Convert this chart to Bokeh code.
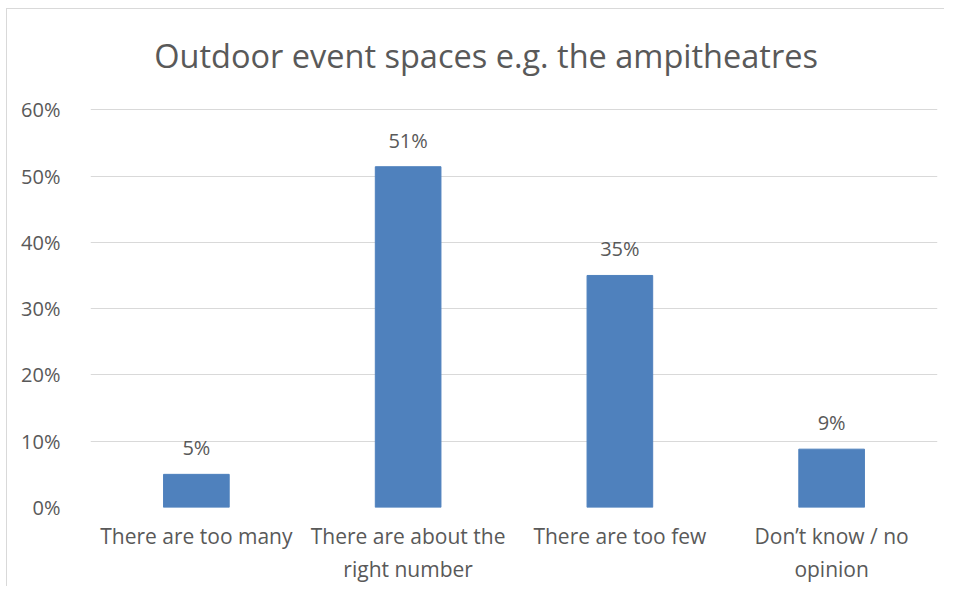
from bokeh.plotting import figure
from bokeh.models import ColumnDataSource, NumeralTickFormatter, FixedTicker, Range1d
from bokeh.core.properties import value
from bokeh.embed import file_html
from bokeh.resources import INLINE

title_text = "Outdoor event spaces e.g. the ampitheatres"
categories = ["There are too many", "There are about the\nright number", "There are too few", "Don\u2019t know / no\nopinion"]
values = [0.05, 0.514, 0.35, 0.088]
labels = ["5%", "51%", "35%", "9%"]
y_ticks = [0, 0.1, 0.2, 0.3, 0.4, 0.5, 0.6]

FONT = "Open Sans"
GREY = "#595959"

src = ColumnDataSource(dict(cat=categories, val=values, lab=labels))

p = figure(x_range=categories, y_range=Range1d(0, 0.7436), width=938, height=578,
           output_backend="svg", toolbar_location=None,
           min_border_left=83, min_border_right=8, min_border_top=5, min_border_bottom=80)
p.margin = (8, 0, 0, 6)
p.styles = {"border-left": "1px solid #d9d9d9", "border-top": "1px solid #d9d9d9"}
p.outline_line_color = None
p.background_fill_color = "white"
p.border_fill_color = "white"

# chart title drawn inside the (extended) plot area, above the 60% gridline
p.text(x=[categories[1]], y=[0.682], text=[title_text], x_offset=78, text_align="center",
       text_baseline="middle", text_font=value(FONT), text_font_size="32.5px", text_color=GREY)

p.vbar(x="cat", top="val", width=0.31, source=src, fill_color="#4f81bd", line_color="#4f81bd")
p.text(x="cat", y="val", text="lab", source=src, text_align="center", text_baseline="bottom",
       y_offset=-13, text_font=value(FONT), text_font_size="20px", text_color=GREY)

p.yaxis.ticker = FixedTicker(ticks=y_ticks)
p.yaxis.formatter = NumeralTickFormatter(format="0%")
for ax in (p.xaxis, p.yaxis):
    ax.axis_line_color = None
    ax.major_tick_line_color = None
    ax.minor_tick_line_color = None
    ax.major_label_text_font = FONT
    ax.major_label_text_color = GREY
p.yaxis.major_label_text_font_size = "20px"
p.xaxis.major_label_text_font_size = "21px"
p.yaxis.major_label_standoff = 24
p.xaxis.major_label_standoff = 8
p.xgrid.grid_line_color = None
p.ygrid.grid_line_color = "#d9d9d9"
p.ygrid.grid_line_width = 1

open("out.html", "w").write(file_html(p, INLINE))
